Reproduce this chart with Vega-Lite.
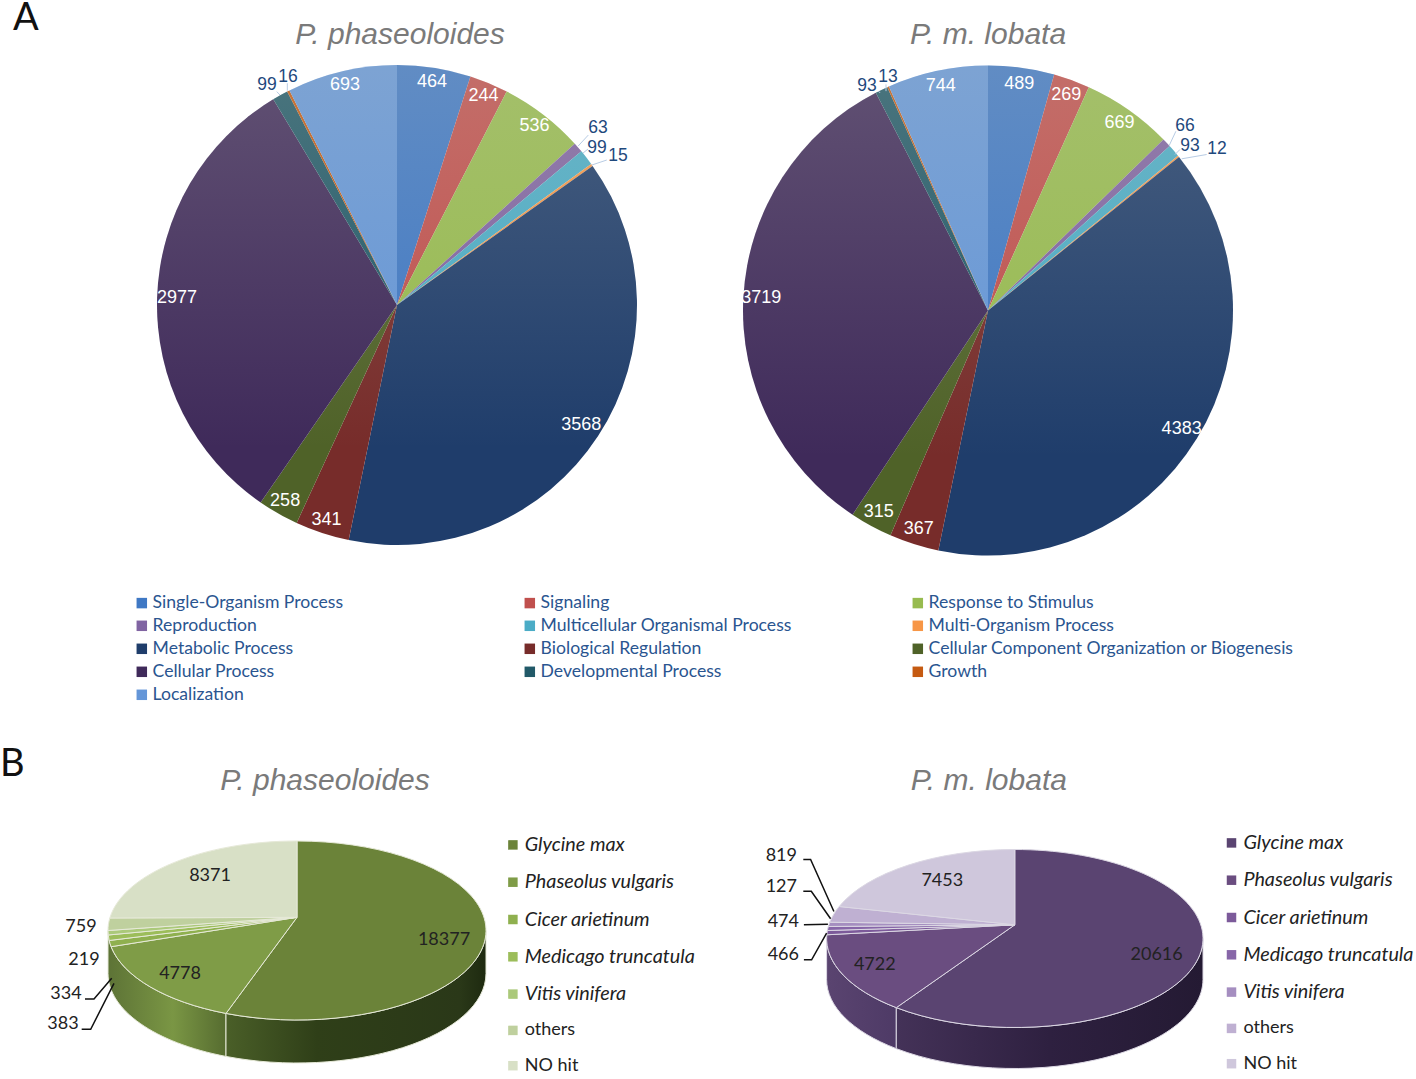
{"$schema":"https://vega.github.io/schema/vega-lite/v6.json","padding":0,"background":"white","spacing":42,"resolve":{"scale":{"color":"independent","shape":"independent"},"legend":{"color":"independent","shape":"independent"}},"config":{"view":{"stroke":null},"text":{"font":"Liberation Sans"}},
"datasets":{
"a1":[{"cat":"Single-Organism Process","value":464,"rank":1},{"cat":"Signaling","value":244,"rank":2},{"cat":"Response to Stimulus","value":536,"rank":3},{"cat":"Reproduction","value":63,"rank":4},{"cat":"Multicellular Organismal Process","value":99,"rank":5},{"cat":"Multi-Organism Process","value":15,"rank":6},{"cat":"Metabolic Process","value":3568,"rank":7},{"cat":"Biological Regulation","value":341,"rank":8},{"cat":"Cellular Component Organization or Biogenesis","value":258,"rank":9},{"cat":"Cellular Process","value":2977,"rank":10},{"cat":"Developmental Process","value":99,"rank":11},{"cat":"Growth","value":16,"rank":12},{"cat":"Localization","value":693,"rank":13}],
"a2":[{"cat":"Single-Organism Process","value":489,"rank":1},{"cat":"Signaling","value":269,"rank":2},{"cat":"Response to Stimulus","value":669,"rank":3},{"cat":"Reproduction","value":66,"rank":4},{"cat":"Multicellular Organismal Process","value":93,"rank":5},{"cat":"Multi-Organism Process","value":12,"rank":6},{"cat":"Metabolic Process","value":4383,"rank":7},{"cat":"Biological Regulation","value":367,"rank":8},{"cat":"Cellular Component Organization or Biogenesis","value":315,"rank":9},{"cat":"Cellular Process","value":3719,"rank":10},{"cat":"Developmental Process","value":93,"rank":11},{"cat":"Growth","value":13,"rank":12},{"cat":"Localization","value":744,"rank":13}],
"b1":[{"cat":"Glycine max","value":18377},{"cat":"Phaseolus vulgaris","value":4778},{"cat":"Cicer arietinum","value":383},{"cat":"Medicago truncatula","value":334},{"cat":"Vitis vinifera","value":219},{"cat":"others","value":759},{"cat":"NO hit","value":8371}],
"b2":[{"cat":"Glycine max","value":20616},{"cat":"Phaseolus vulgaris","value":4722},{"cat":"Cicer arietinum","value":466},{"cat":"Medicago truncatula","value":474},{"cat":"Vitis vinifera","value":127},{"cat":"others","value":819},{"cat":"NO hit","value":7453}]
},
"vconcat":[
{"bounds":"flush","spacing":0,"resolve":{"scale":{"color":"independent","shape":"independent"},"legend":{"color":"independent","shape":"independent"}},"hconcat":[
{"width":100,"height":10,"title":{"text":"A","font":"Lato","fontSize":38,"fontWeight":"normal","color":"#111111","anchor":"start","offset":-34,"dx":13},"data":{"values":[{"k":1}]},"mark":{"type":"text","text":""},"encoding":{}},
{"width":594,"height":600,"title":{"text":"P. phaseoloides","font":"Liberation Sans","fontStyle":"italic","fontWeight":"normal","fontSize":30,"color":"#7a7a7a","anchor":"middle","offset":-45,"dx":3},"data":{"name":"a1"},
"layer":[
{"mark":{"type":"arc","outerRadius":240},"encoding":{"theta":{"field":"value","type":"quantitative","stack":true},"order":{"field":"rank"},"color":{"field":"cat","type":"nominal","scale":{"domain":["Single-Organism Process","Signaling","Response to Stimulus","Reproduction","Multicellular Organismal Process","Multi-Organism Process","Metabolic Process","Biological Regulation","Cellular Component Organization or Biogenesis","Cellular Process","Developmental Process","Growth","Localization"],"range":["#3f78c4","#c0504d","#97bb4f","#8064a2","#4bacc6","#f79646","#1f3d6b","#772c2a","#4f6228","#3f2a5a","#215968","#c55a11","#6496d8"]},"legend":{"orient":"none","legendX":33,"legendY":589,"title":null,"columns":3,"direction":"horizontal","gridAlign":"all","columnPadding":3,"rowPadding":4,"symbolType":"square","symbolSize":110,"symbolStrokeWidth":0,"labelFont":"Lato","labelFontSize":17.6,"labelColor":"#2a5590","labelLimit":500,"labelOffset":2,"padding":0}}}},
{"data":{"values":[{"k":1}]},"mark":{"type":"arc","outerRadius":240,"theta":0,"theta2":6.2832,"fill":{"gradient":"linear","x1":0,"y1":0,"x2":0,"y2":1,"stops":[{"offset":0,"color":"rgba(205,205,195,0.24)"},{"offset":0.8,"color":"rgba(205,205,195,0)"}]}},"encoding":{}},
{"data":{"values":[{"k":1}]},"mark":{"type":"point","filled":false,"opacity":1,"size":230400,"stroke":"#b8cce4","strokeWidth":1,"shape":"M0.797 -0.708L0.755 -0.6625M0.796 -0.65L0.775 -0.633M0.874 -0.604L0.811 -0.583M-0.501 -0.889L-0.4875 -0.875M-0.457 -0.924L-0.457 -0.893"},"encoding":{}},
{"mark":{"type":"text","radius":226,"fontSize":18,"fill":"white"},"encoding":{"theta":{"field":"value","type":"quantitative","stack":true},"order":{"field":"rank"},"detail":{"field":"cat"},"text":{"condition":{"test":"datum.value>200&&datum.value<1000","field":"value","type":"nominal"},"value":""}}},
{"mark":{"type":"text","radius":220,"fontSize":18,"fill":"white"},"encoding":{"theta":{"field":"value","type":"quantitative","stack":true},"order":{"field":"rank"},"detail":{"field":"cat"},"text":{"condition":{"test":"datum.value>=1000","field":"value","type":"nominal"},"value":""}}},
{"transform":[{"filter":"datum.cat=='Reproduction'"}],"mark":{"type":"text","dx":201,"dy":-177,"fontSize":17.5,"fill":"#1f497d"},"encoding":{"text":{"field":"value","type":"nominal"}}},
{"transform":[{"filter":"datum.cat=='Multicellular Organismal Process'"}],"mark":{"type":"text","dx":200,"dy":-157,"fontSize":17.5,"fill":"#1f497d"},"encoding":{"text":{"field":"value","type":"nominal"}}},
{"transform":[{"filter":"datum.cat=='Multi-Organism Process'"}],"mark":{"type":"text","dx":221,"dy":-149,"fontSize":17.5,"fill":"#1f497d"},"encoding":{"text":{"field":"value","type":"nominal"}}},
{"transform":[{"filter":"datum.cat=='Developmental Process'"}],"mark":{"type":"text","dx":-130,"dy":-220,"fontSize":17.5,"fill":"#1f497d"},"encoding":{"text":{"field":"value","type":"nominal"}}},
{"transform":[{"filter":"datum.cat=='Growth'"}],"mark":{"type":"text","dx":-109,"dy":-228,"fontSize":17.5,"fill":"#1f497d"},"encoding":{"text":{"field":"value","type":"nominal"}}}
]},
{"width":588,"height":611,"title":{"text":"P. m. lobata","font":"Liberation Sans","fontStyle":"italic","fontWeight":"normal","fontSize":30,"color":"#7a7a7a","anchor":"middle","offset":-45},"data":{"name":"a2"},
"layer":[
{"mark":{"type":"arc","outerRadius":245},"encoding":{"theta":{"field":"value","type":"quantitative","stack":true},"order":{"field":"rank"},"color":{"field":"cat","type":"nominal","scale":{"domain":["Single-Organism Process","Signaling","Response to Stimulus","Reproduction","Multicellular Organismal Process","Multi-Organism Process","Metabolic Process","Biological Regulation","Cellular Component Organization or Biogenesis","Cellular Process","Developmental Process","Growth","Localization"],"range":["#3f78c4","#c0504d","#97bb4f","#8064a2","#4bacc6","#f79646","#1f3d6b","#772c2a","#4f6228","#3f2a5a","#215968","#c55a11","#6496d8"]},"legend":null}}},
{"data":{"values":[{"k":1}]},"mark":{"type":"arc","outerRadius":245,"theta":0,"theta2":6.2832,"fill":{"gradient":"linear","x1":0,"y1":0,"x2":0,"y2":1,"stops":[{"offset":0,"color":"rgba(205,205,195,0.24)"},{"offset":0.8,"color":"rgba(205,205,195,0)"}]}},"encoding":{}},
{"data":{"values":[{"k":1}]},"mark":{"type":"point","filled":false,"opacity":1,"size":230400,"stroke":"#b8cce4","strokeWidth":1,"shape":"M0.783 -0.747L0.755 -0.6875M0.8 -0.671L0.779 -0.65M0.911 -0.65L0.807 -0.632M-0.457 -0.914L-0.45 -0.907M-0.425 -0.942L-0.425 -0.914"},"encoding":{}},
{"mark":{"type":"text","radius":229,"fontSize":18,"fill":"white"},"encoding":{"theta":{"field":"value","type":"quantitative","stack":true},"order":{"field":"rank"},"detail":{"field":"cat"},"text":{"condition":{"test":"datum.value>200&&datum.value<1000","field":"value","type":"nominal"},"value":""}}},
{"mark":{"type":"text","radius":227,"fontSize":18,"fill":"white"},"encoding":{"theta":{"field":"value","type":"quantitative","stack":true},"order":{"field":"rank"},"detail":{"field":"cat"},"text":{"condition":{"test":"datum.value>=1000","field":"value","type":"nominal"},"value":""}}},
{"transform":[{"filter":"datum.cat=='Reproduction'"}],"mark":{"type":"text","dx":197,"dy":-185,"fontSize":17.5,"fill":"#1f497d"},"encoding":{"text":{"field":"value","type":"nominal"}}},
{"transform":[{"filter":"datum.cat=='Multicellular Organismal Process'"}],"mark":{"type":"text","dx":202,"dy":-165,"fontSize":17.5,"fill":"#1f497d"},"encoding":{"text":{"field":"value","type":"nominal"}}},
{"transform":[{"filter":"datum.cat=='Multi-Organism Process'"}],"mark":{"type":"text","dx":229,"dy":-162,"fontSize":17.5,"fill":"#1f497d"},"encoding":{"text":{"field":"value","type":"nominal"}}},
{"transform":[{"filter":"datum.cat=='Developmental Process'"}],"mark":{"type":"text","dx":-121,"dy":-225,"fontSize":17.5,"fill":"#1f497d"},"encoding":{"text":{"field":"value","type":"nominal"}}},
{"transform":[{"filter":"datum.cat=='Growth'"}],"mark":{"type":"text","dx":-100,"dy":-234,"fontSize":17.5,"fill":"#1f497d"},"encoding":{"text":{"field":"value","type":"nominal"}}}
]}
]},
{"bounds":"flush","spacing":0,"resolve":{"scale":{"color":"independent","shape":"independent"},"legend":{"color":"independent","shape":"independent"}},"hconcat":[
{"width":47,"height":10,"title":{"text":"B","font":"Lato","fontSize":38,"fontWeight":"normal","color":"#111111","anchor":"start","offset":12,"dx":0},"data":{"values":[{"k":1}]},"mark":{"type":"text","text":""},"encoding":{}},
{"width":500,"height":267,"title":{"text":"P. phaseoloides","font":"Liberation Sans","fontStyle":"italic","fontWeight":"normal","fontSize":30,"color":"#7a7a7a","anchor":"middle","offset":1,"dx":28},"data":{"name":"b1"},
"layer":[
{"transform":[{"filter":"datum.cat=='Phaseolus vulgaris'"}],"mark":{"type":"point","filled":true,"opacity":1,"size":142884,"stroke":"#e6e9d8","strokeWidth":1,"shape":"M-1 0A1 0.4735 0 0 0 -0.3757 0.4388L-0.3757 0.6663A1 0.4735 0 0 1 -1 0.2275Z","fill":{"gradient":"linear","x1":0,"y1":0,"x2":1,"y2":0,"stops":[{"offset":0,"color":"#5d7336"},{"offset":0.55,"color":"#7a9644"},{"offset":1,"color":"#566c30"}]}},"encoding":{}},
{"transform":[{"filter":"datum.cat=='Glycine max'"}],"mark":{"type":"point","filled":true,"opacity":1,"size":142884,"stroke":"#e6e9d8","strokeWidth":1,"shape":"M-0.3757 0.4388A1 0.4735 0 0 0 1 0L1 0.2275A1 0.4735 0 0 1 -0.3757 0.6663Z","fill":{"gradient":"linear","x1":0,"y1":0,"x2":1,"y2":0,"stops":[{"offset":0,"color":"#4a5f28"},{"offset":0.35,"color":"#2f3f18"},{"offset":0.9,"color":"#2a3818"},{"offset":1,"color":"#1e2a10"}]}},"encoding":{}},
{"mark":{"type":"point","filled":true,"opacity":1,"size":142884,"stroke":"#e6e9d8","strokeWidth":1},"encoding":{
"shape":{"field":"cat","type":"nominal","legend":null,"scale":{"domain":["NO hit","others","Vitis vinifera","Medicago truncatula","Cicer arietinum","Phaseolus vulgaris","Glycine max"],"range":["M0 -0.0698L-0.9902 -0.0661A1 0.4735 0 0 1 0 -0.4735Z","M0 -0.0698L-1 0A1 0.4735 0 0 1 -0.9902 -0.0661Z","M0 -0.0698L-0.9987 0.0238A1 0.4735 0 0 1 -1 0Z","M0 -0.0698L-0.9937 0.0529A1 0.4735 0 0 1 -0.9987 0.0238Z","M0 -0.0698L-0.9835 0.0857A1 0.4735 0 0 1 -0.9937 0.0529Z","M0 -0.0698L-0.3757 0.4388A1 0.4735 0 0 1 -0.9835 0.0857Z","M0 -0.0698L0 -0.4735A1 0.4735 0 1 1 -0.3757 0.4388Z"]}},
"color":{"field":"cat","type":"nominal","scale":{"domain":["Glycine max","Phaseolus vulgaris","Cicer arietinum","Medicago truncatula","Vitis vinifera","others","NO hit"],"range":["#6b8339","#7f9c47","#8fb04f","#9cbd5a","#abc97a","#bfd09e","#d8e0c6"]},"legend":{"orient":"none","legendX":456,"legendY":38,"title":null,"direction":"vertical","rowPadding":16.3,"symbolType":"square","symbolSize":90,"symbolStrokeWidth":0,"labelFont":"Lato","labelFontSize":18.8,"labelColor":"#222222","labelLimit":300,"labelOffset":2,"padding":0,"encoding":{"labels":{"fontStyle":{"value":{"expr":"datum.label=='others'||datum.label=='NO hit'?'normal':'italic'"}},"fontSize":{"value":{"expr":"datum.label=='others'||datum.label=='NO hit'?18:19.8"}}}}}}}},
{"data":{"values":[{"k":1}]},"mark":{"type":"point","filled":false,"opacity":1,"size":142884,"stroke":"#111111","strokeWidth":1.5,"shape":"M-1.1217 0.3624L-1.0741 0.3624L-0.9804 0.2529M-1.1392 0.5228L-1.0916 0.5228L-0.9683 0.2794"},"encoding":{}},
{"transform":[{"filter":"datum.cat=='NO hit'"}],"mark":{"type":"text","font":"Lato","dx":-87,"dy":-55,"fontSize":18,"fill":"#222222"},"encoding":{"text":{"field":"value","type":"nominal"}}},
{"transform":[{"filter":"datum.cat=='Glycine max'"}],"mark":{"type":"text","font":"Lato","dx":147,"dy":9.5,"fontSize":18,"fill":"#222222"},"encoding":{"text":{"field":"value","type":"nominal"}}},
{"transform":[{"filter":"datum.cat=='Phaseolus vulgaris'"}],"mark":{"type":"text","font":"Lato","dx":-117,"dy":43,"fontSize":18,"fill":"#222222"},"encoding":{"text":{"field":"value","type":"nominal"}}},
{"transform":[{"filter":"datum.cat=='others'"}],"mark":{"type":"text","font":"Lato","dx":-216,"dy":-4,"fontSize":18,"fill":"#222222"},"encoding":{"text":{"field":"value","type":"nominal"}}},
{"transform":[{"filter":"datum.cat=='Vitis vinifera'"}],"mark":{"type":"text","font":"Lato","dx":-213,"dy":29.5,"fontSize":18,"fill":"#222222"},"encoding":{"text":{"field":"value","type":"nominal"}}},
{"transform":[{"filter":"datum.cat=='Medicago truncatula'"}],"mark":{"type":"text","font":"Lato","dx":-231,"dy":63.5,"fontSize":18,"fill":"#222222"},"encoding":{"text":{"field":"value","type":"nominal"}}},
{"transform":[{"filter":"datum.cat=='Cicer arietinum'"}],"mark":{"type":"text","font":"Lato","dx":-234,"dy":93.5,"fontSize":18,"fill":"#222222"},"encoding":{"text":{"field":"value","type":"nominal"}}}
]},
{"width":65.4,"height":10,"data":{"values":[{"k":1}]},"mark":{"type":"text","text":""},"encoding":{}},
{"width":803.6,"height":283,"title":{"text":"P. m. lobata","font":"Liberation Sans","fontStyle":"italic","fontWeight":"normal","fontSize":30,"color":"#7a7a7a","anchor":"middle","offset":1,"dx":-26},"data":{"name":"b2"},
"layer":[
{"transform":[{"filter":"datum.cat=='Phaseolus vulgaris'"}],"mark":{"type":"point","filled":true,"opacity":1,"size":141677,"stroke":"#dcd8e4","strokeWidth":1,"shape":"M-1 0A1 0.4729 0 0 0 -0.6296 0.3674L-0.6296 0.5853A1 0.4729 0 0 1 -1 0.2179Z","fill":{"gradient":"linear","x1":0,"y1":0,"x2":1,"y2":0,"stops":[{"offset":0,"color":"#5a4470"},{"offset":1,"color":"#4e3a66"}]}},"encoding":{}},
{"transform":[{"filter":"datum.cat=='Glycine max'"}],"mark":{"type":"point","filled":true,"opacity":1,"size":141677,"stroke":"#dcd8e4","strokeWidth":1,"shape":"M-0.6296 0.3674A1 0.4729 0 0 0 1 0L1 0.2179A1 0.4729 0 0 1 -0.6296 0.5853Z","fill":{"gradient":"linear","x1":0,"y1":0,"x2":1,"y2":0,"stops":[{"offset":0,"color":"#443258"},{"offset":0.5,"color":"#2e2040"},{"offset":1,"color":"#241a33"}]}},"encoding":{}},
{"mark":{"type":"point","filled":true,"opacity":1,"size":141677,"stroke":"#dcd8e4","strokeWidth":1},"encoding":{
"shape":{"field":"cat","type":"nominal","legend":null,"scale":{"domain":["NO hit","others","Vitis vinifera","Medicago truncatula","Cicer arietinum","Phaseolus vulgaris","Glycine max"],"range":["M0 -0.0728L-0.9331 -0.17A1 0.4729 0 0 1 0 -0.4729Z","M0 -0.0728L-0.9831 -0.0866A1 0.4729 0 0 1 -0.9331 -0.17Z","M0 -0.0728L-0.9909 -0.0638A1 0.4729 0 0 1 -0.9831 -0.0866Z","M0 -0.0728L-0.996 -0.0425A1 0.4729 0 0 1 -0.9909 -0.0638Z","M0 -0.0728L-0.9991 -0.0197A1 0.4729 0 0 1 -0.996 -0.0425Z","M0 -0.0728L-0.6296 0.3674A1 0.4729 0 0 1 -0.9991 -0.0197Z","M0 -0.0728L0 -0.4729A1 0.4729 0 1 1 -0.6296 0.3674Z"]}},
"color":{"field":"cat","type":"nominal","scale":{"domain":["Glycine max","Phaseolus vulgaris","Cicer arietinum","Medicago truncatula","Vitis vinifera","others","NO hit"],"range":["#5a4471","#6a4d80","#7c5a9a","#8766a8","#a58ec0","#bfb0d2","#cfc7dc"]},"legend":{"orient":"none","legendX":608.6,"legendY":36,"title":null,"direction":"vertical","rowPadding":16.3,"symbolType":"square","symbolSize":90,"symbolStrokeWidth":0,"labelFont":"Lato","labelFontSize":18.8,"labelColor":"#222222","labelLimit":300,"labelOffset":2,"padding":0,"encoding":{"labels":{"fontStyle":{"value":{"expr":"datum.label=='others'||datum.label=='NO hit'?'normal':'italic'"}},"fontSize":{"value":{"expr":"datum.label=='others'||datum.label=='NO hit'?18:19.8"}}}}}}}},
{"data":{"values":[{"k":1}]},"mark":{"type":"point","filled":false,"opacity":1,"size":141677,"stroke":"#111111","strokeWidth":1.5,"shape":"M-1.1238 -0.4198L-1.085 -0.4198L-0.9612 -0.1435M-1.1238 -0.2513L-1.0813 -0.2513L-0.9787 -0.1047M-1.1206 -0.0728L-0.9931 -0.076M-1.1206 0.1132L-1.0797 0.1132L-1 -0.0282"},"encoding":{}},
{"transform":[{"filter":"datum.cat=='NO hit'"}],"mark":{"type":"text","font":"Lato","dx":-72.5,"dy":-57.3,"fontSize":18,"fill":"#222222"},"encoding":{"text":{"field":"value","type":"nominal"}}},
{"transform":[{"filter":"datum.cat=='Glycine max'"}],"mark":{"type":"text","font":"Lato","dx":141.8,"dy":16.3,"fontSize":18,"fill":"#222222"},"encoding":{"text":{"field":"value","type":"nominal"}}},
{"transform":[{"filter":"datum.cat=='Phaseolus vulgaris'"}],"mark":{"type":"text","font":"Lato","dx":-140,"dy":26.3,"fontSize":18,"fill":"#222222"},"encoding":{"text":{"field":"value","type":"nominal"}}},
{"transform":[{"filter":"datum.cat=='others'"}],"mark":{"type":"text","font":"Lato","dx":-233.5,"dy":-83,"fontSize":18,"fill":"#222222"},"encoding":{"text":{"field":"value","type":"nominal"}}},
{"transform":[{"filter":"datum.cat=='Vitis vinifera'"}],"mark":{"type":"text","font":"Lato","dx":-233.5,"dy":-52,"fontSize":18,"fill":"#222222"},"encoding":{"text":{"field":"value","type":"nominal"}}},
{"transform":[{"filter":"datum.cat=='Medicago truncatula'"}],"mark":{"type":"text","font":"Lato","dx":-231.5,"dy":-16.3,"fontSize":18,"fill":"#222222"},"encoding":{"text":{"field":"value","type":"nominal"}}},
{"transform":[{"filter":"datum.cat=='Cicer arietinum'"}],"mark":{"type":"text","font":"Lato","dx":-231.5,"dy":16.3,"fontSize":18,"fill":"#222222"},"encoding":{"text":{"field":"value","type":"nominal"}}}
]}
]}
]}
